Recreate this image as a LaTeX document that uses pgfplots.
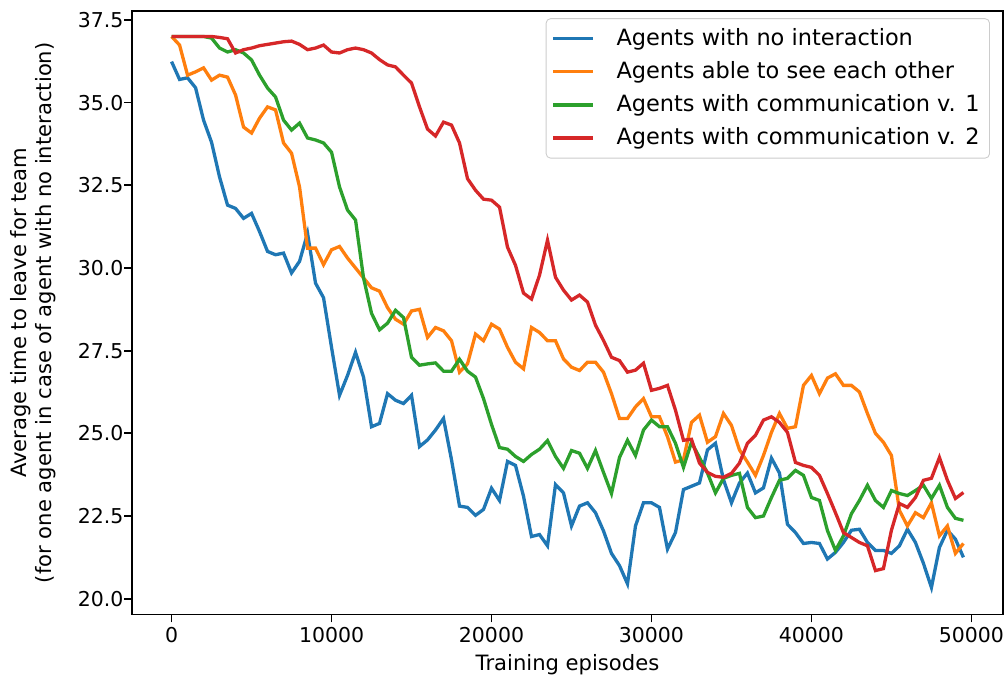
\documentclass[border=0pt]{standalone}
\usepackage{fontspec}
\setmainfont{DejaVu Sans}
\usepackage{pgfplots}
\usepackage{pgfplotstable}
\pgfplotsset{compat=1.18}
\definecolor{c0}{HTML}{1F77B4}
\definecolor{c1}{HTML}{FF7F0E}
\definecolor{c2}{HTML}{2CA02C}
\definecolor{c3}{HTML}{D62728}
\pgfplotstableread{
x b o g r
0 36.24 37.0 37.0 37.0
500 35.7 36.74 37.0 37.0
1000 35.75 35.83 37.0 37.0
1500 35.45 35.93 37.0 37.0
2000 34.47 36.05 37.0 37.0
2500 33.8 35.68 36.95 37.0
3000 32.75 35.83 36.65 36.97
3500 31.9 35.77 36.53 36.93
4000 31.8 35.23 36.6 36.5
4500 31.5 34.26 36.5 36.6
5000 31.65 34.08 36.29 36.65
5500 31.1 34.53 35.83 36.72
6000 30.5 34.87 35.44 36.76
6500 30.4 34.78 35.17 36.8
7000 30.45 33.78 34.47 36.84
7500 29.85 33.47 34.17 36.86
8000 30.2 32.45 34.38 36.76
8500 31.05 30.6 33.93 36.6
9000 29.54 30.6 33.87 36.65
9500 29.1 30.1 33.78 36.74
10000 27.6 30.55 33.5 36.53
10500 26.15 30.65 32.45 36.5
11000 26.75 30.3 31.75 36.6
11500 27.45 30.0 31.45 36.65
12000 26.7 29.7 29.7 36.6
12500 25.2 29.4 28.63 36.5
13000 25.3 29.3 28.13 36.3
13500 26.2 28.8 28.33 36.14
14000 26.0 28.45 28.72 36.08
14500 25.9 28.3 28.5 35.83
15000 26.15 28.7 27.3 35.59
15500 24.6 28.75 27.06 34.87
16000 24.8 27.9 27.1 34.2
16500 25.1 28.2 27.13 33.99
17000 25.45 28.1 26.88 34.41
17500 24.2 27.8 26.88 34.32
18000 22.8 26.85 27.24 33.78
18500 22.76 27.1 26.88 32.7
19000 22.52 28.0 26.7 32.35
19500 22.7 27.8 26.05 32.08
20000 23.34 28.3 25.27 32.05
20500 22.97 28.15 24.57 31.84
21000 24.15 27.6 24.52 30.63
21500 24.03 27.15 24.3 30.08
22000 23.1 26.95 24.15 29.24
22500 21.88 28.2 24.36 29.06
23000 21.94 28.05 24.52 29.78
23500 21.6 27.8 24.78 30.84
24000 23.45 27.8 24.3 29.72
24500 23.2 27.25 23.94 29.33
25000 22.2 27.0 24.48 29.03
25500 22.8 26.9 24.4 29.18
26000 22.9 27.15 23.94 28.97
26500 22.6 27.15 24.48 28.27
27000 22.05 26.85 23.82 27.81
27500 21.37 26.2 23.18 27.3
28000 21.0 25.45 24.27 27.2
28500 20.45 25.45 24.79 26.85
29000 22.2 25.8 24.33 26.91
29500 22.9 26.05 25.1 27.12
30000 22.9 25.5 25.4 26.3
30500 22.76 25.5 25.2 26.36
31000 21.5 24.9 25.2 26.45
31500 22.0 24.13 24.7 25.7
32000 23.3 24.2 23.97 24.79
32500 23.4 25.33 24.73 24.82
33000 23.5 25.55 24.27 24.1
33500 24.5 24.73 23.8 23.82
34000 24.7 24.9 23.2 23.7
34500 23.6 25.6 23.64 23.67
35000 22.9 25.24 23.73 23.79
35500 23.5 24.5 23.79 24.1
36000 23.8 24.13 22.76 24.7
36500 23.2 23.73 22.45 24.94
37000 23.35 24.33 22.5 25.4
37500 24.25 25.03 23.06 25.5
38000 23.8 25.6 23.58 25.33
38500 22.25 25.15 23.64 25.03
39000 22.0 25.2 23.88 24.12
39500 21.67 26.45 23.73 24.03
40000 21.7 26.75 23.06 23.97
40500 21.67 26.2 22.97 23.73
41000 21.2 26.67 22.06 23.18
41500 21.4 26.8 21.46 22.6
42000 21.7 26.45 21.9 22.0
42500 22.07 26.45 22.57 21.85
43000 22.1 26.25 22.97 21.7
43500 21.7 25.6 23.43 21.6
44000 21.46 25.0 22.97 20.85
44500 21.46 24.73 22.76 20.91
45000 21.37 24.33 23.27 22.07
45500 21.6 22.67 23.18 22.88
46000 22.1 22.2 23.12 22.76
46500 21.7 22.6 23.27 23.06
47000 21.07 22.45 23.43 23.58
47500 20.34 22.9 23.03 23.64
48000 21.55 21.9 23.43 24.27
48500 22.07 22.2 22.76 23.58
49000 21.8 21.37 22.43 23.03
49500 21.25 21.67 22.37 23.21
}\data
\begin{document}
\begin{tikzpicture}
\begin{axis}[
  name=ax,
  scale only axis,
  width=396pt, height=274.4pt,
  xmin=-2475, xmax=51975,
  ymin=19.52, ymax=37.77,
  xtick={0,10000,20000,30000,40000,50000},
  ytick={20,22.5,25,27.5,30,32.5,35,37.5},
  scaled x ticks=false,
  xticklabel style={/pgf/number format/set thousands separator={}, inner sep=2pt},
  yticklabel style={/pgf/number format/fixed, /pgf/number format/fixed zerofill, /pgf/number format/precision=1, inner sep=1.5pt, xshift=1.3pt},
  /pgf/number format/assume math mode=true,
  tick align=outside,
  tick pos=left,
  major tick length=3.5pt,
  every tick/.style={black, line width=0.8pt},
  axis line style={line width=0.8pt},
  tick label style={font=\fontsize{9.3}{11}\selectfont},
  label style={font=\fontsize{9.6}{11.5}\selectfont},
  xlabel={Training episodes},
  ylabel={Average time to leave for team\\(for one agent in case of agent with no interaction)},
  ylabel style={align=center, yshift=5pt},
  legend cell align=left,
  legend image code/.code={\draw[#1] (0pt,0pt) -- (18pt,0pt); \path (26pt,0pt);},
  legend style={at={(0.985,0.988)}, anchor=north east, draw=black!20, rounded corners=2pt,
    fill=white, fill opacity=0.8, text opacity=1, font=\fontsize{10.2}{12}\selectfont,
    row sep=1.8pt, inner xsep=2.5pt, inner ysep=2.5pt},
]
\addplot[c0, line width=1.5pt] table[x=x, y=b] {\data};
\addlegendentry{Agents with no interaction}
\addplot[c1, line width=1.5pt] table[x=x, y=o] {\data};
\addlegendentry{Agents able to see each other}
\addplot[c2, line width=1.5pt] table[x=x, y=g] {\data};
\addlegendentry{Agents with communication v. 1}
\addplot[c3, line width=1.5pt] table[x=x, y=r] {\data};
\addlegendentry{Agents with communication v. 2}
\end{axis}
\pgfresetboundingbox
\path[use as bounding box] ([xshift=-60pt,yshift=-31.4pt]ax.south west) rectangle ([xshift=0.45pt,yshift=5pt]ax.north east);
\end{tikzpicture}
\end{document}
